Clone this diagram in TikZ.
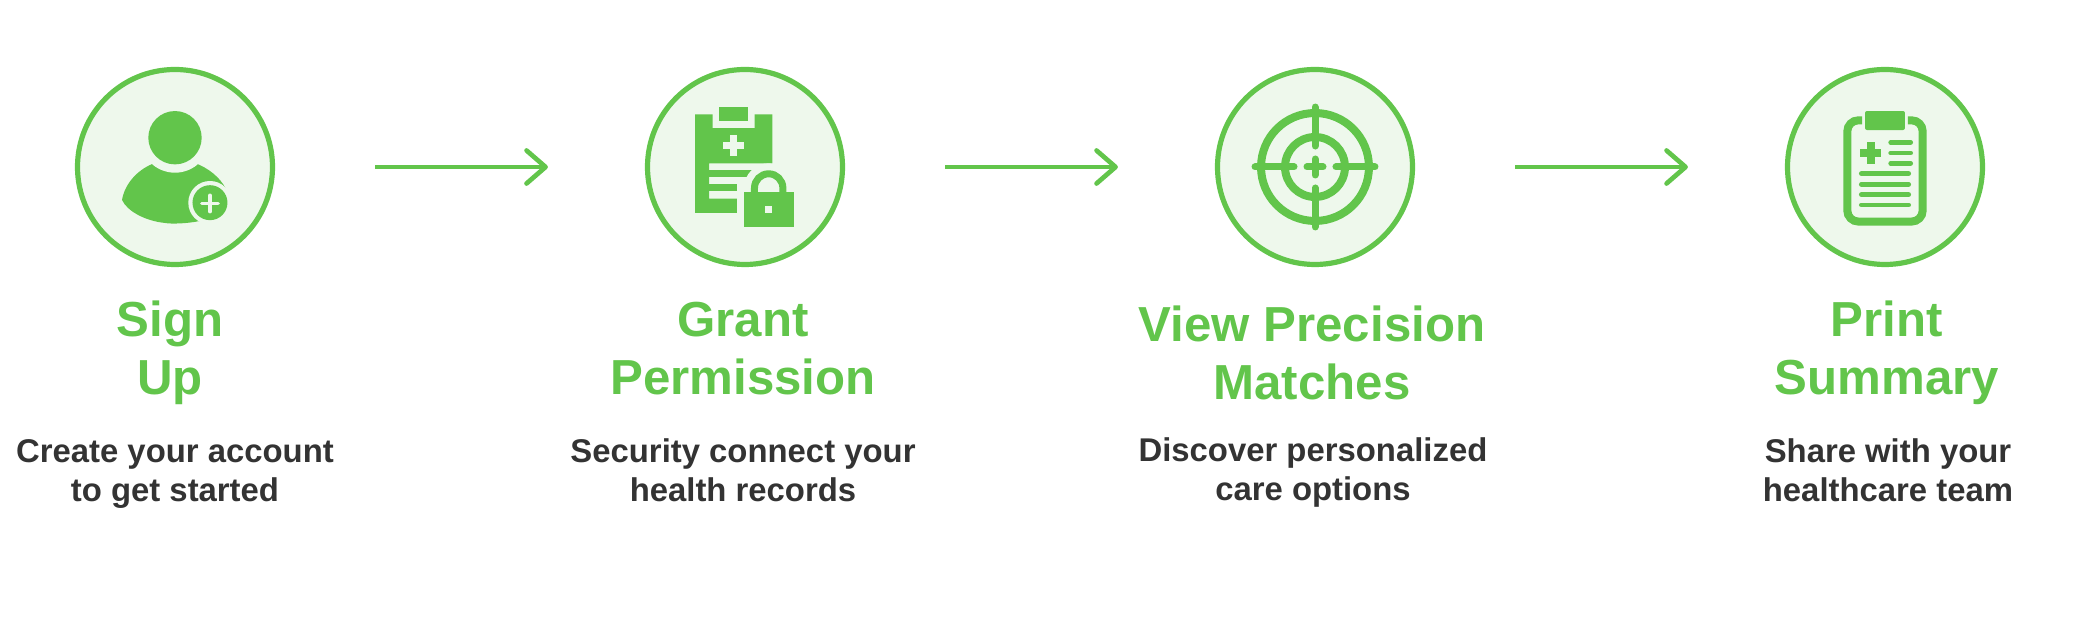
\documentclass[tikz,border=0pt]{standalone}
\usepackage{fontspec}
\setmainfont{Liberation Sans}
\usetikzlibrary{arrows.meta}
\definecolor{stepgreen}{HTML}{62C54B}
\definecolor{stepfill}{HTML}{EEF8EC}
\definecolor{steptext}{HTML}{333333}
\newcommand{\titlefont}{\fontsize{14}{16.5}\selectfont\bfseries}
\newcommand{\descfont}{\fontsize{9.35}{11.1}\selectfont\bfseries}

\begin{document}
\begin{tikzpicture}[
  stepcircle/.style={circle, draw=stepgreen, fill=stepfill, line width=0.052cm, minimum size=1.95cm, inner sep=0pt},
  steptitle/.style={font=\titlefont, text=stepgreen, align=center, inner sep=0pt},
  stepdesc/.style={font=\descfont, text=steptext, align=center, inner sep=0pt},
  arrow/.style={-{Straight Barb[length=0.19cm, width=0.33cm, round]}, stepgreen, line width=0.047cm, shorten <=1cm, shorten >=0.97cm},
  icon/.style={x=0.01cm, y=0.01cm, shift={(#1)}},
  solid green/.style={fill=stepgreen, draw=none},
  solid pale/.style={fill=stepfill, draw=none},
  thin bar/.style={stepgreen, line width=0.047cm, line cap=round},
  thick bar/.style={stepgreen, line width=0.07cm, line cap=round},
  target ring/.style={stepgreen, line width=0.08cm}
]
\useasboundingbox (0,0) rectangle (20.77,-6.24);

\node[stepcircle] (signup) at (1.75,-1.67) {};
\node[stepcircle] (grant) at (7.45,-1.67) {};
\node[stepcircle] (view) at (13.15,-1.67) {};
\node[stepcircle] (print) at (18.85,-1.67) {};
\draw[arrow] (signup) -- (grant);
\draw[arrow] (grant) -- (view);
\draw[arrow] (view) -- (print);

% sign up icon
\begin{scope}[icon=signup.center]
\fill[solid green] (-53,-33) .. controls (-50,-15) and (-35,-1) .. (-20,4) -- (20,4) .. controls (33,-1) and (45,-10) .. (51,-22) -- (35,-36) -- (25,-54) .. controls (10,-57) and (-5,-57) .. (-10,-56) .. controls (-30,-54) and (-48,-44) .. (-53,-33) -- cycle;
\fill[solid pale] (0,29.3) circle (35);
\fill[solid green] (0,29.3) circle (26.7);
\fill[solid pale] (35,-35.7) circle (21.7);
\fill[solid green] (35,-35.7) circle (17.5);
\draw[stepfill, line width=0.035cm, line cap=round] (26.8,-36.5) -- (43.2,-36.5) (35,-28.3) -- (35,-44.7);
\end{scope}

% grant permission icon
\begin{scope}[icon=grant.center]
\fill[solid green] (-50,52.7) -- (-32.3,52.7) -- (-32.3,39) -- (9.7,39) -- (9.7,52.7) -- (27.3,52.7) -- (27.3,3.7) -- (-36,3.7) -- (-36,-31.7) -- (-7.7,-31.7) -- (-7.7,-46) -- (-50,-46) -- cycle;
\fill[solid green] (-25.7,45.7) rectangle (2.7,59.7);
\fill[solid green] (-36,-10.3) rectangle (13,-3.3);
\fill[solid green] (-36,-24.3) rectangle (-7.7,-17.3);
\fill[solid pale] (-22,25) rectangle (-1,17.7);
\fill[solid pale] (-15,31.7) rectangle (-7.7,10.7);
\fill[solid pale] (-8,-17.3) rectangle (55.7,-67);
\fill[solid pale] (23.7,-21) circle (24.7);
\draw[stepgreen, line width=0.07cm] (9.5,-26) -- (9.5,-21) arc[start angle=180, end angle=0, radius=14.2] -- (37.9,-26);
\fill[solid green] (-1,-24.7) rectangle (48.7,-60);
\fill[solid pale] (20.3,-38.7) rectangle (27.3,-46);
\end{scope}

% precision matches icon
\begin{scope}[icon=view.center]
\draw[target ring] (0,0) circle (54);
\draw[target ring] (0,0) circle (30);
\draw[thick bar] (0,60) -- (0,21);
\draw[thick bar] (0,-60) -- (0,-21);
\draw[thick bar] (-60,0) -- (-21,0);
\draw[thick bar] (60,0) -- (21,0);
\draw[thick bar] (-8,0) -- (8,0);
\draw[thick bar] (0,-8) -- (0,8);
\end{scope}

% print summary icon
\begin{scope}[icon=print.center, yshift=-0.013cm]
\draw[stepgreen, line width=0.08cm, rounded corners=0.11cm] (-23,48) -- (-37.7,48) -- (-37.7,-53.3) -- (37.7,-53.3) -- (37.7,48) -- (23,48);
\fill[solid green, rounded corners=0.02cm] (-20,57.3) rectangle (20,38.3);
\fill[solid green] (-25,11.3) rectangle (-4,19.3);
\fill[solid green] (-18.5,4.6) rectangle (-10.5,26);
\draw[thin bar] (5.7,26) -- (25.7,26);
\draw[thin bar] (5.7,15.3) -- (25.7,15.3);
\draw[thin bar] (5.7,5) -- (25.7,5);
\draw[thin bar] (-23.7,-5.3) -- (23.7,-5.3);
\draw[thin bar] (-23.7,-16) -- (23.7,-16);
\draw[thin bar] (-23.7,-26.3) -- (23.7,-26.3);
\draw[thin bar] (-23.7,-36.7) -- (23.7,-36.7);
\end{scope}

\node[steptitle] (signuptitle) at (1.70,-3.53) {Sign\\Up};
\node[steptitle] (granttitle) at (7.43,-3.49) {Grant\\Permission};
\node[steptitle] (viewtitle) at (13.12,-3.53) {View Precision\\Matches};
\node[steptitle] (printtitle) at (18.87,-3.53) {Print\\Summary};

\node[stepdesc] (signupdesc) at (1.75,-4.74) {Create your account\\to get started};
\node[stepdesc] (grantdesc) at (7.43,-4.70) {Security connect your\\health records};
\node[stepdesc] (viewdesc) at (13.13,-4.73) {Discover personalized\\care options};
\node[stepdesc] (printdesc) at (18.88,-4.70) {Share with your\\healthcare team};
\end{tikzpicture}
\end{document}
